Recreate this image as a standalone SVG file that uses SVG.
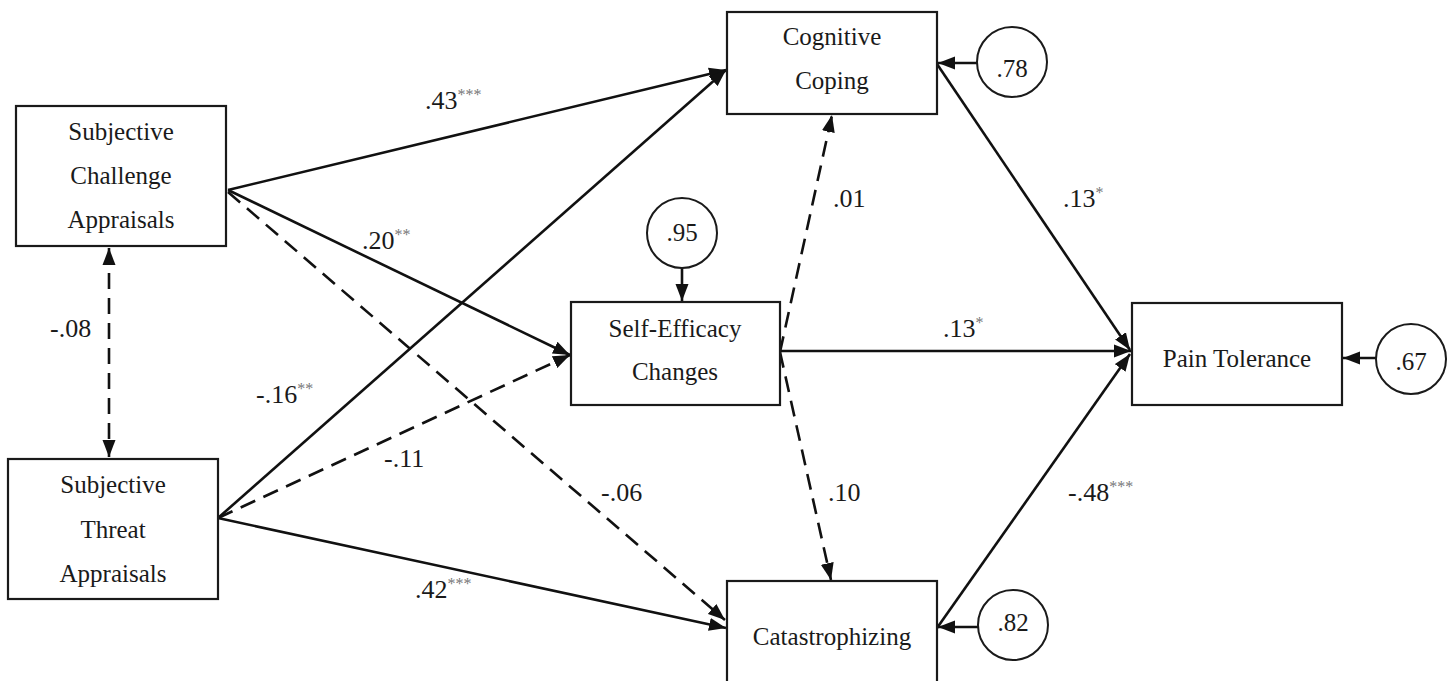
<svg xmlns="http://www.w3.org/2000/svg" width="1450" height="681" viewBox="0 0 1450 681">
<style>
.box{fill:#fff;stroke:#1a1a1a;stroke-width:2.2}
.circ{fill:#fff;stroke:#1a1a1a;stroke-width:2}
text{font-family:'Liberation Serif','Tinos','Times New Roman','DejaVu Serif',serif;fill:#1a1a1a}
.nt{font-size:25px;text-anchor:middle}
.lb{font-size:26px}
.st{font-size:16px;fill:#777}
.ln{fill:none;stroke:#111;stroke-width:2.6}
.ds{stroke-dasharray:16 9}
</style>
<defs>
<marker id="ah" markerUnits="userSpaceOnUse" markerWidth="18" markerHeight="14" refX="17" refY="7" orient="auto-start-reverse">
<path d="M0,0.5 L17,7 L0,13.5 z" fill="#111"/>
</marker>
</defs>
<g id="connectors">
<line class="ln ds" x1="109" y1="248" x2="109" y2="457" marker-start="url(#ah)" marker-end="url(#ah)"/>
<line class="ln" x1="228" y1="190" x2="726" y2="70" marker-end="url(#ah)"/>
<line class="ln" x1="228" y1="190" x2="570" y2="355" marker-end="url(#ah)"/>
<line class="ln ds" x1="228" y1="192" x2="725" y2="620" marker-end="url(#ah)"/>
<line class="ln" x1="218" y1="518" x2="726" y2="70" marker-end="url(#ah)"/>
<line class="ln ds" x1="218" y1="518" x2="570" y2="355" marker-end="url(#ah)"/>
<line class="ln" x1="218" y1="518" x2="726" y2="628" marker-end="url(#ah)"/>
<line class="ln ds" x1="780" y1="352" x2="832" y2="115" marker-end="url(#ah)"/>
<line class="ln ds" x1="780" y1="352" x2="831" y2="580" marker-end="url(#ah)"/>
<line class="ln" x1="780" y1="351" x2="1131" y2="351" marker-end="url(#ah)"/>
<line class="ln" x1="937" y1="64" x2="1130" y2="350" marker-end="url(#ah)"/>
<line class="ln" x1="937" y1="628" x2="1130" y2="354" marker-end="url(#ah)"/>
<line class="ln" x1="977" y1="63" x2="938" y2="63" marker-end="url(#ah)"/>
<line class="ln" x1="682" y1="268" x2="682" y2="301" marker-end="url(#ah)"/>
<line class="ln" x1="978" y1="627" x2="938" y2="627" marker-end="url(#ah)"/>
<line class="ln" x1="1376" y1="358" x2="1343" y2="358" marker-end="url(#ah)"/>
</g>
<g id="challenge">
<rect class="box" x="16" y="106" width="210" height="140"/>
<text class="nt" x="121" y="140" font-family="Liberation Serif, serif">Subjective</text>
<text class="nt" x="121" y="184">Challenge</text>
<text class="nt" x="121" y="228">Appraisals</text>
</g>
<g id="threat">
<rect class="box" x="8" y="459" width="210" height="140"/>
<text class="nt" x="113" y="493">Subjective</text>
<text class="nt" x="113" y="538">Threat</text>
<text class="nt" x="113" y="582">Appraisals</text>
</g>
<g id="coping">
<rect class="box" x="727" y="12" width="210" height="102"/>
<text class="nt" x="832" y="45">Cognitive</text>
<text class="nt" x="832" y="89">Coping</text>
</g>
<g id="selfefficacy">
<rect class="box" x="571" y="302" width="209" height="103"/>
<text class="nt" x="675" y="337">Self-Efficacy</text>
<text class="nt" x="675" y="380">Changes</text>
</g>
<g id="catastrophizing">
<rect class="box" x="727" y="581" width="210" height="120"/>
<text class="nt" x="832" y="645">Catastrophizing</text>
</g>
<g id="paintolerance">
<rect class="box" x="1132" y="303" width="210" height="102"/>
<text class="nt" x="1237" y="367">Pain Tolerance</text>
</g>
<g id="e78">
<circle class="circ" cx="1012" cy="62" r="35"/>
<text class="nt" x="1012" y="77">.78</text>
</g>
<g id="e95">
<circle class="circ" cx="682" cy="233" r="35"/>
<text class="nt" x="682" y="241">.95</text>
</g>
<g id="e82">
<circle class="circ" cx="1013" cy="625" r="35"/>
<text class="nt" x="1013" y="631">.82</text>
</g>
<g id="e67">
<circle class="circ" cx="1411" cy="359" r="35"/>
<text class="nt" x="1411" y="370">.67</text>
</g>
<g id="labels">
<text class="lb" x="425" y="109">.43<tspan class="st" dy="-9">***</tspan></text>
<text class="lb" x="362" y="249">.20<tspan class="st" dy="-9">**</tspan></text>
<text class="lb" x="50" y="337">-.08</text>
<text class="lb" x="256" y="403">-.16<tspan class="st" dy="-9">**</tspan></text>
<text class="lb" x="384" y="467">-.11</text>
<text class="lb" x="601" y="501">-.06</text>
<text class="lb" x="415" y="598">.42<tspan class="st" dy="-9">***</tspan></text>
<text class="lb" x="833" y="207">.01</text>
<text class="lb" x="828" y="501">.10</text>
<text class="lb" x="1063" y="207">.13<tspan class="st" dy="-9">*</tspan></text>
<text class="lb" x="943" y="337">.13<tspan class="st" dy="-9">*</tspan></text>
<text class="lb" x="1068" y="501">-.48<tspan class="st" dy="-9">***</tspan></text>
</g>
</svg>
